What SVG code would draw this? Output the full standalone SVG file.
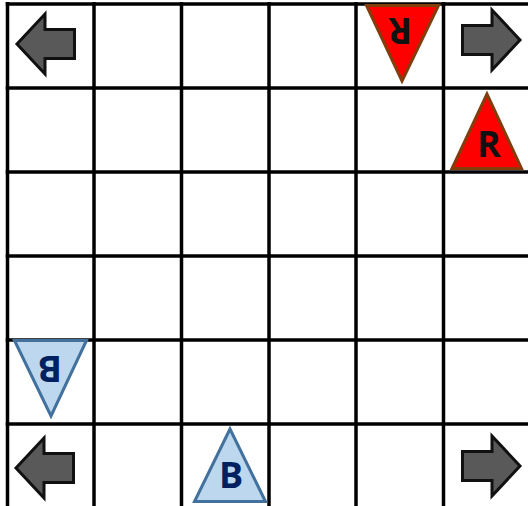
<svg xmlns="http://www.w3.org/2000/svg" width="528" height="506" viewBox="0 0 528 506">
<style>
.grid line{stroke:#000;stroke-width:3.5}
.arrow{fill:#595959;stroke:#111;stroke-width:3;stroke-linejoin:miter}
.red{fill:#FF0000;stroke:#843C0C;stroke-width:3;stroke-linejoin:miter}
.blue{fill:#BDD7EE;stroke:#41719C;stroke-width:3;stroke-linejoin:miter}
.lbl{font-family:"Open Sans","Liberation Sans",sans-serif;font-weight:700;font-size:36px;text-anchor:middle}
.rl{fill:#111}
.bl{fill:#002060}
</style>
<defs>
<polygon id="larrow" points="0,0 28,-30 28,-14.5 57.5,-14.5 57.5,14.5 28,14.5 28,30"/>
</defs>
<rect x="0" y="0" width="528" height="506" fill="#fff"/>
<g class="grid" id="grid">
<line x1="7.5" y1="2" x2="7.5" y2="506"/>
<line x1="94" y1="2" x2="94" y2="506"/>
<line x1="181.5" y1="2" x2="181.5" y2="506"/>
<line x1="269" y1="2" x2="269" y2="506"/>
<line x1="356" y1="2" x2="356" y2="506"/>
<line x1="443.5" y1="2" x2="443.5" y2="506"/>
<line x1="5.75" y1="4" x2="528" y2="4"/>
<line x1="5.75" y1="88" x2="528" y2="88"/>
<line x1="5.75" y1="172" x2="528" y2="172"/>
<line x1="5.75" y1="256" x2="528" y2="256"/>
<line x1="5.75" y1="340" x2="528" y2="340"/>
<line x1="5.75" y1="424" x2="528" y2="424"/>
</g>
<g id="arrow-top-left"><use href="#larrow" class="arrow" transform="translate(17,44)"/></g>
<g id="arrow-top-right"><use href="#larrow" class="arrow" transform="translate(520,40) scale(-1,1)"/></g>
<g id="arrow-bottom-left"><use href="#larrow" class="arrow" transform="translate(16,468)"/></g>
<g id="arrow-bottom-right"><use href="#larrow" class="arrow" transform="translate(520,466) scale(-1,1)"/></g>
<g id="red-down">
<polygon class="red" points="366.5,5.5 438.5,5.5 402,81"/>
<text class="lbl rl" x="400" y="44" transform="rotate(180 400 31)">R</text>
</g>
<g id="red-up">
<polygon class="red" points="487,94 452,168.5 521.5,168.5"/>
<text class="lbl rl" x="489" y="157">R</text>
</g>
<g id="blue-down">
<polygon class="blue" points="14.5,340.5 86.5,340.5 51,416"/>
<text class="lbl bl" x="50" y="381.5" transform="rotate(180 50 368.5)">B</text>
</g>
<g id="blue-up">
<polygon class="blue" points="230,429 194.5,501.5 265.5,501.5"/>
<text class="lbl bl" x="231" y="488">B</text>
</g>
</svg>
